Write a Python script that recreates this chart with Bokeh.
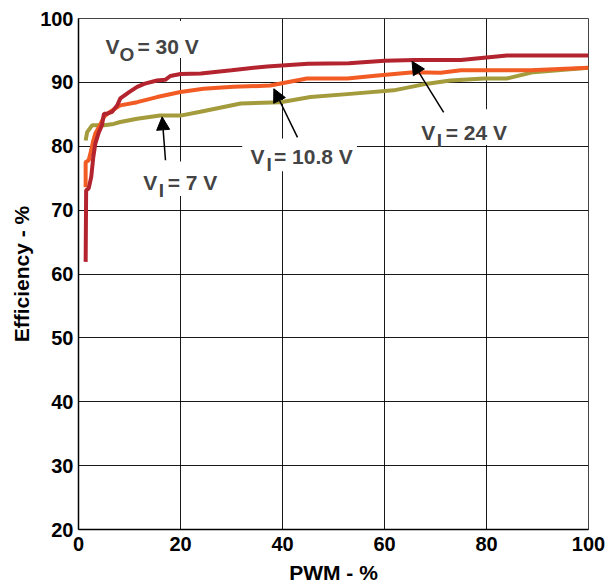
from bokeh.plotting import figure
from bokeh.models import FixedTicker, Label, Arrow, NormalHead, BoxAnnotation
from bokeh.embed import file_html
from bokeh.resources import INLINE

# PWM (%) and efficiency (%) for each input voltage (Vo = 30 V)
pwm_24 = [1.4, 1.5, 2.0, 2.5, 2.9, 3.3, 4.0, 4.6, 5.0, 5.6, 6.6, 7.6, 8.2, 10, 11.5, 13, 15.4, 17, 18, 20, 24, 30, 37, 45, 53, 60, 66, 75, 84, 100]
eff_24 = [61.9, 73.1, 73.4, 75.2, 78.3, 80.4, 82.2, 83.3, 85.1, 85.1, 85.4, 86.4, 87.5, 88.5, 89.3, 89.8, 90.3, 90.4, 91.0, 91.3, 91.4, 91.9, 92.5, 92.9, 93.0, 93.4, 93.5, 93.5, 94.2, 94.2]

pwm_108 = [1.4, 1.4, 2.0, 2.5, 2.9, 3.3, 4.0, 5.0, 6.0, 8.2, 11.5, 15.4, 20, 24.5, 30.4, 37.6, 44.8, 52.7, 59.2, 65.7, 71, 75, 88.6, 100]
eff_108 = [73.6, 77.5, 77.8, 79.4, 80.9, 82.0, 83.0, 84.6, 85.3, 86.4, 86.9, 87.7, 88.5, 89.0, 89.3, 89.5, 90.6, 90.6, 91.1, 91.6, 91.5, 91.9, 91.9, 92.3]

pwm_7 = [1.4, 1.7, 2.7, 5.0, 6.9, 8.2, 11.5, 16, 20, 23.9, 31.8, 39.6, 45.5, 53.3, 61.8, 68.4, 72.9, 79.5, 84, 89.2, 100]
eff_7 = [80.9, 82.2, 83.3, 83.3, 83.5, 83.8, 84.3, 84.8, 84.8, 85.4, 86.7, 86.9, 87.7, 88.2, 88.75, 89.8, 90.3, 90.6, 90.6, 91.6, 92.3]

x_ticks = [0, 20, 40, 60, 80, 100]
y_ticks = [20, 30, 40, 50, 60, 70, 80, 90, 100]

FONT = "Liberation Sans"

p = figure(width=608, height=586, x_range=(0, 100), y_range=(20, 100),
           output_backend="svg", toolbar_location=None,
           min_border_left=78, min_border_right=20, min_border_top=18, min_border_bottom=56)
p.background_fill_color = "white"
p.border_fill_color = "white"
p.outline_line_color = "#444444"
p.outline_line_width = 1

for ax in (p.xaxis[0], p.yaxis[0]):
    ax.major_tick_in = 0
    ax.major_tick_out = 0
    ax.minor_tick_in = 0
    ax.minor_tick_out = 0
    ax.axis_line_color = "black"
    ax.axis_line_width = 1.5
    ax.major_label_text_font = FONT
    ax.major_label_text_font_style = "bold"
    ax.major_label_text_font_size = "20px"
    ax.major_label_text_color = "black"
    ax.axis_label_text_font = FONT
    ax.axis_label_text_font_style = "bold"
    ax.axis_label_text_font_size = "21px"
    ax.axis_label_text_color = "black"

p.xaxis.ticker = FixedTicker(ticks=x_ticks)
p.yaxis.ticker = FixedTicker(ticks=y_ticks)
p.xaxis.axis_label = "PWM - %"
p.yaxis.axis_label = "Efficiency - %"
p.xaxis.major_label_standoff = 7
p.yaxis.major_label_standoff = 5
p.xaxis.axis_label_standoff = 7
p.yaxis.axis_label_standoff = 4

p.xgrid.ticker = FixedTicker(ticks=x_ticks)
p.ygrid.ticker = FixedTicker(ticks=y_ticks)
for g in (p.xgrid[0], p.ygrid[0]):
    g.grid_line_color = "black"
    g.grid_line_width = 1
    g.grid_line_alpha = 0.9

p.line(pwm_7, eff_7, color="#A39B3C", line_width=4)
p.line(pwm_108, eff_108, color="#F25C24", line_width=4)
p.line(pwm_24, eff_24, color="#B3242F", line_width=4)

# white boxes behind labels
def wbox(l, r, b, t):
    p.add_layout(BoxAnnotation(left=l, right=r, bottom=b, top=t, fill_color="white",
                               fill_alpha=1, line_alpha=0, level="glyph"))

wbox(3.9, 25.9, 93.8, 99.6)
wbox(11.4, 27.6, 72.2, 77.6)
wbox(32.1, 54.6, 76.1, 81.2)
wbox(65.9, 85.2, 80.2, 85.8)

def vlabel(x, y, sub, rest, sub_dx, rest_dx):
    p.add_layout(Label(x=x, y=y, text="V", text_font=FONT, text_font_style="bold",
                       text_font_size="21px", text_baseline="alphabetic"))
    p.add_layout(Label(x=x, y=y, x_offset=sub_dx, y_offset=-8, text=sub, text_font=FONT,
                       text_font_style="bold", text_font_size="19px", text_baseline="alphabetic"))
    p.add_layout(Label(x=x, y=y, x_offset=rest_dx, text=rest, text_font=FONT,
                       text_font_style="bold", text_font_size="21px", text_baseline="alphabetic"))

vlabel(5.29, 95.6, "O", "= 30 V", 14, 32)
vlabel(12.69, 74.33, "I", "= 7 V", 15.5, 24.5)
vlabel(33.73, 78.33, "I", "= 10.8 V", 16, 23.5)
vlabel(67.2, 82.14, "I", "= 24 V", 15.5, 24.5)

def arrow(xs, ys, xe, ye):
    p.add_layout(Arrow(x_start=xs, y_start=ys, x_end=xe, y_end=ye, line_color="black",
                       line_width=1.5,
                       end=NormalHead(size=13, fill_color="black", line_color="black")))

arrow(17.06, 77.8, 16.4, 84.6)
arrow(42.94, 81.4, 38.3, 89.0)
arrow(71.6, 85.3, 65.4, 93.3)

open("out.html", "w").write(file_html(p, INLINE))
